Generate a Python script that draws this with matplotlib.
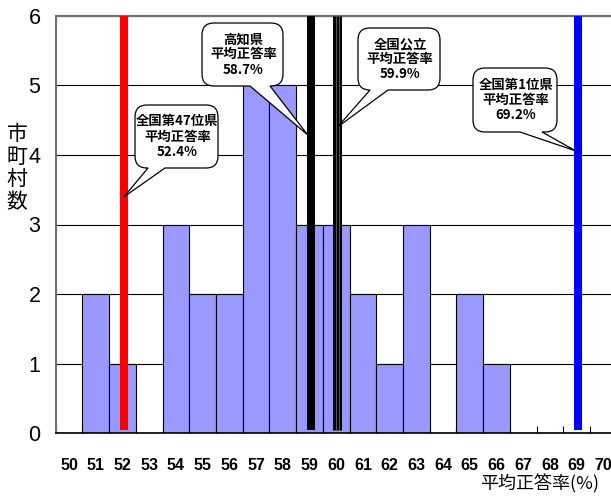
import numpy as np
import matplotlib
matplotlib.use('Agg')
import matplotlib.pyplot as plt
from matplotlib import font_manager as fm
from matplotlib.path import Path
from matplotlib.patches import PathPatch
import matplotlib.transforms as mtransforms

# ---------------- data ----------------
bins = [50, 51, 52, 53, 54, 55, 56, 57, 58, 59, 60,
        61, 62, 63, 64, 65, 66, 67, 68, 69, 70]
counts = [0, 2, 1, 0, 3, 2, 2, 5, 5, 3, 3,
          2, 1, 3, 0, 2, 1, 0, 0, 0, 0]
ref_names = ["全国第47位県", "高知県", "全国公立", "全国第1位県"]
ref_values = [52.4, 58.7, 59.9, 69.2]
ref_colors = ["#FF0000", "#000000", "#000000", "#0000FF"]
y_label = "市町村数"
x_label = "平均正答率(%)"

# ---------------- fonts ----------------
names = {f.name for f in fm.fontManager.ttflist}
narrow = 'Liberation Sans Narrow' if 'Liberation Sans Narrow' in names else 'Liberation Sans'
cjk = 'Noto Sans CJK JP'

W, H = 611, 499
fig = plt.figure(figsize=(W / 100, H / 100), dpi=100)
ax = fig.add_axes([55.7 / W, 1 - 433.3 / H, (616.7 - 55.7) / W, (433.3 - 15.7) / H])

ax.bar(bins, counts, width=1, color='#9999FF', edgecolor='black', linewidth=0.8, zorder=2)
ax.set_xlim(bins[0] - 0.5, bins[-1] + 0.5)
ax.set_ylim(0, 6)
ax.set_yticks(range(7))
ax.yaxis.grid(True, color='black', lw=0.8)
ax.set_axisbelow(True)

ax.set_xticks(bins)
ax.set_xticklabels([str(b) for b in bins], fontfamily=narrow, fontweight='bold', fontsize=11.5)
ax.set_xticks(np.arange(bins[0] - 0.5, bins[-1] + 0.6, 1), minor=True)
ax.tick_params(axis='x', which='major', length=0, pad=18)
ax.tick_params(axis='x', which='minor', direction='in', length=5, color='black', width=0.8)
ax.tick_params(axis='y', length=0, pad=11, labelsize=15.5)
for lbl in ax.get_yticklabels():
    lbl.set_fontfamily(narrow)

for s in ['top', 'left']:
    ax.spines[s].set_color('#707070')
    ax.spines[s].set_linewidth(1.5)
ax.spines['right'].set_visible(False)
ax.spines['bottom'].set_color('black')
ax.spines['bottom'].set_linewidth(1.2)

# ---------------- reference lines ----------------
shift = mtransforms.ScaledTranslation(1.3 / 100, 0, fig.dpi_scale_trans)
line_x = []
for i, (v, c) in enumerate(zip(ref_values, ref_colors)):
    x = round(v)
    line_x.append(x)
    lw = 6.5 if i == 2 else 5.8
    ax.plot([x, x], [0.05, 6], color=c, lw=lw, solid_capstyle='butt',
            transform=ax.transData + shift, zorder=3)
    if i == 2:
        for off in (-1.6, 1.6):
            t = ax.transData + mtransforms.ScaledTranslation((1.3 + off) / 100, 0, fig.dpi_scale_trans)
            ax.plot([x, x], [0.05, 6], color='#666666', lw=0.6, solid_capstyle='butt',
                    transform=t, zorder=3.1)

# ---------------- callouts ----------------
def px(x, y):
    return (x / W, 1 - y / H)

def callout(box, base, tip, text, r=12):
    x0, y0, x1, y1 = box
    b0, b1 = base
    tx, ty = tip
    pts = [
        ((x0 + r, y0), Path.MOVETO),
        ((x1 - r, y0), Path.LINETO),
        ((x1, y0), Path.CURVE3), ((x1, y0 + r), Path.CURVE3),
        ((x1, y1 - r), Path.LINETO),
        ((x1, y1), Path.CURVE3), ((x1 - r, y1), Path.CURVE3),
        ((b1, y1), Path.LINETO),
        ((tx, ty), Path.LINETO),
        ((b0, y1), Path.LINETO),
        ((x0 + r, y1), Path.LINETO),
        ((x0, y1), Path.CURVE3), ((x0, y1 - r), Path.CURVE3),
        ((x0, y0 + r), Path.LINETO),
        ((x0, y0), Path.CURVE3), ((x0 + r, y0), Path.CURVE3),
        ((x0 + r, y0), Path.CLOSEPOLY),
    ]
    verts = [px(*p) for p, _ in pts]
    codes = [c for _, c in pts]
    patch = PathPatch(Path(verts, codes), facecolor='white', edgecolor='black',
                      lw=0.9, transform=fig.transFigure, zorder=10)
    fig.add_artist(patch)
    cx, cy = (x0 + x1) / 2, (y0 + y1) / 2
    fig.text(*px(cx + 1, cy), text, ha='center', va='center', multialignment='center',
             fontfamily=cjk, fontweight='bold', fontsize=9.6, linespacing=1.1, zorder=11)

def tip_x(i):
    disp = (ax.transData + shift).transform((line_x[i], 0))
    return disp[0]

boxes = [(135, 105, 218, 168), (202, 23, 283, 86), (358, 28, 440, 90), (473, 68, 557, 132)]
bases = [(148, 165), (250, 270), (370, 388), (520, 542)]
tip_y = [197, 135, 127, 151]
tip_dx = [0, -3, 0, -2]
for i in range(4):
    txt = f"{ref_names[i]}\n平均正答率\n{ref_values[i]}%"
    callout(boxes[i], bases[i], (tip_x(i) + tip_dx[i], tip_y[i]), txt)

# ---------------- axis labels ----------------
fig.text(17 / W, 1 - 168 / H, "\n".join(y_label), ha='center', va='center',
         fontfamily=cjk, fontsize=15, linespacing=1.05)
fig.text(599 / W, 1 - 484 / H, x_label, ha='right', va='center',
         fontfamily=cjk, fontsize=13)

fig.savefig('out.png', dpi=100)
